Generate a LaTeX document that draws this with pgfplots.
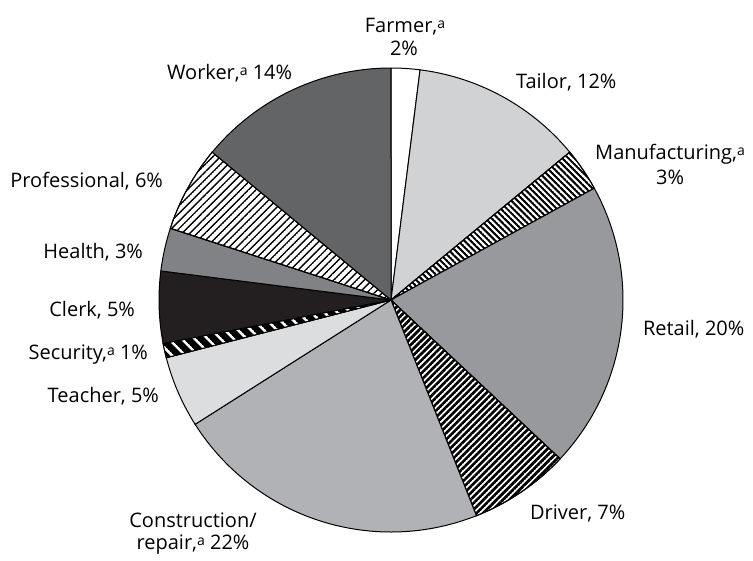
\documentclass[border=0pt]{standalone}
\usepackage{fontspec}
\setmainfont{Open Sans}
\usepackage{pgfplots}
\pgfplotsset{compat=1.18}
\usetikzlibrary{patterns.meta}

\tikzdeclarepattern{
  name=mylines,
  parameters={
    \pgfkeysvalueof{/pgf/pattern keys/size},
    \pgfkeysvalueof{/pgf/pattern keys/angle},
    \pgfkeysvalueof{/pgf/pattern keys/line width},
  },
  bounding box={
    (0,-0.5*\pgfkeysvalueof{/pgf/pattern keys/line width}) and
    (\pgfkeysvalueof{/pgf/pattern keys/size},
     0.5*\pgfkeysvalueof{/pgf/pattern keys/line width})},
  tile size={(\pgfkeysvalueof{/pgf/pattern keys/size},
              \pgfkeysvalueof{/pgf/pattern keys/size})},
  tile transformation={rotate=\pgfkeysvalueof{/pgf/pattern keys/angle}},
  defaults={
    size/.initial=5pt,
    angle/.initial=45,
    line width/.initial=.4pt,
  },
  code={
    \draw [line width=\pgfkeysvalueof{/pgf/pattern keys/line width}]
      (0,0) -- (\pgfkeysvalueof{/pgf/pattern keys/size},0);
  },
}

\definecolor{txt}{HTML}{231F20}
\definecolor{cTailor}{HTML}{D1D2D4}
\definecolor{cRetail}{HTML}{98999C}
\definecolor{cConstr}{HTML}{B1B2B5}
\definecolor{cTeacher}{HTML}{DCDDDF}
\definecolor{cClerk}{HTML}{231F20}
\definecolor{cHealth}{HTML}{808285}
\definecolor{cWorker}{HTML}{636466}

\newcommand{\sa}{\raisebox{0.35ex}{\fontsize{7}{8}\selectfont a}}

% slice: start and end in cumulative percent, clockwise from 12 o'clock
\newcommand{\slice}[3]{%
  \addplot[draw=black, line width=0.5pt, #3, domain=#1:#2, samples=60]
    ({391+232*cos(90-3.6*x)},{300-232*sin(90-3.6*x)}) -- (axis cs:391,300) -- cycle;
}

\begin{document}
\begin{tikzpicture}
\begin{axis}[
  width=376.5pt, height=276pt, scale only axis,
  xmin=0, xmax=753, ymin=0, ymax=552, y dir=reverse,
  hide axis, clip=false,
  every node/.style={font=\fontsize{10.9}{13}\selectfont, text=txt, inner sep=0pt},
]
\path (rel axis cs:0,0) rectangle (rel axis cs:1,1);
% values (%): Farmer 2, Tailor 12, Manufacturing 3, Retail 20, Driver 7,
% Construction 22, Teacher 5, Security 1, Clerk 5, Health 3, Professional 6, Worker 14
\slice{0}{2}{fill=white}
\slice{2}{14}{fill=cTailor}
\slice{14}{17}{fill=white, postaction={pattern={mylines[size=2.2pt, angle=-45, line width=1.05pt]}, pattern color=black}}
\slice{17}{37}{fill=cRetail}
\slice{37}{44}{fill=white, postaction={pattern={mylines[size=2.3pt, angle=45, line width=1.35pt]}, pattern color=black}}
\slice{44}{66}{fill=cConstr}
\slice{66}{71}{fill=cTeacher}
\slice{71}{72}{fill=black, postaction={pattern={mylines[size=4.6pt, angle=-45, line width=1.3pt]}, pattern color=white}}
\slice{72}{77}{fill=cClerk}
\slice{77}{80}{fill=cHealth}
\slice{80}{86}{fill=white, postaction={pattern={mylines[size=2.7pt, angle=45, line width=0.7pt]}, pattern color=black}}
\slice{86}{100}{fill=cWorker}

\node[anchor=base] at (axis cs:405,32) {Farmer,\sa};
\node[anchor=base] at (axis cs:404,55) {2\%};
\node[anchor=base west] at (axis cs:509,88) {Tailor, 12\%};
\node[anchor=base] at (axis cs:670,159) {Manufacturing,\sa};
\node[anchor=base] at (axis cs:670,184) {3\%};
\node[anchor=base west] at (axis cs:636,335) {Retail, 20\%};
\node[anchor=base west] at (axis cs:523,519) {Driver, 7\%};
\node[anchor=base] at (axis cs:193,527) {Construction/};
\node[anchor=base] at (axis cs:193,549) {repair,\sa{} 22\%};
\node[anchor=base east] at (axis cs:166,402) {Teacher, 5\%};
\node[anchor=base east] at (axis cs:155,359) {Security,\sa{} 1\%};
\node[anchor=base east] at (axis cs:142,316) {Clerk, 5\%};
\node[anchor=base east] at (axis cs:150,258) {Health, 3\%};
\node[anchor=base east] at (axis cs:170,187) {Professional, 6\%};
\node[anchor=base west] at (axis cs:160,79) {Worker,\sa{} 14\%};
\end{axis}
\end{tikzpicture}
\end{document}
